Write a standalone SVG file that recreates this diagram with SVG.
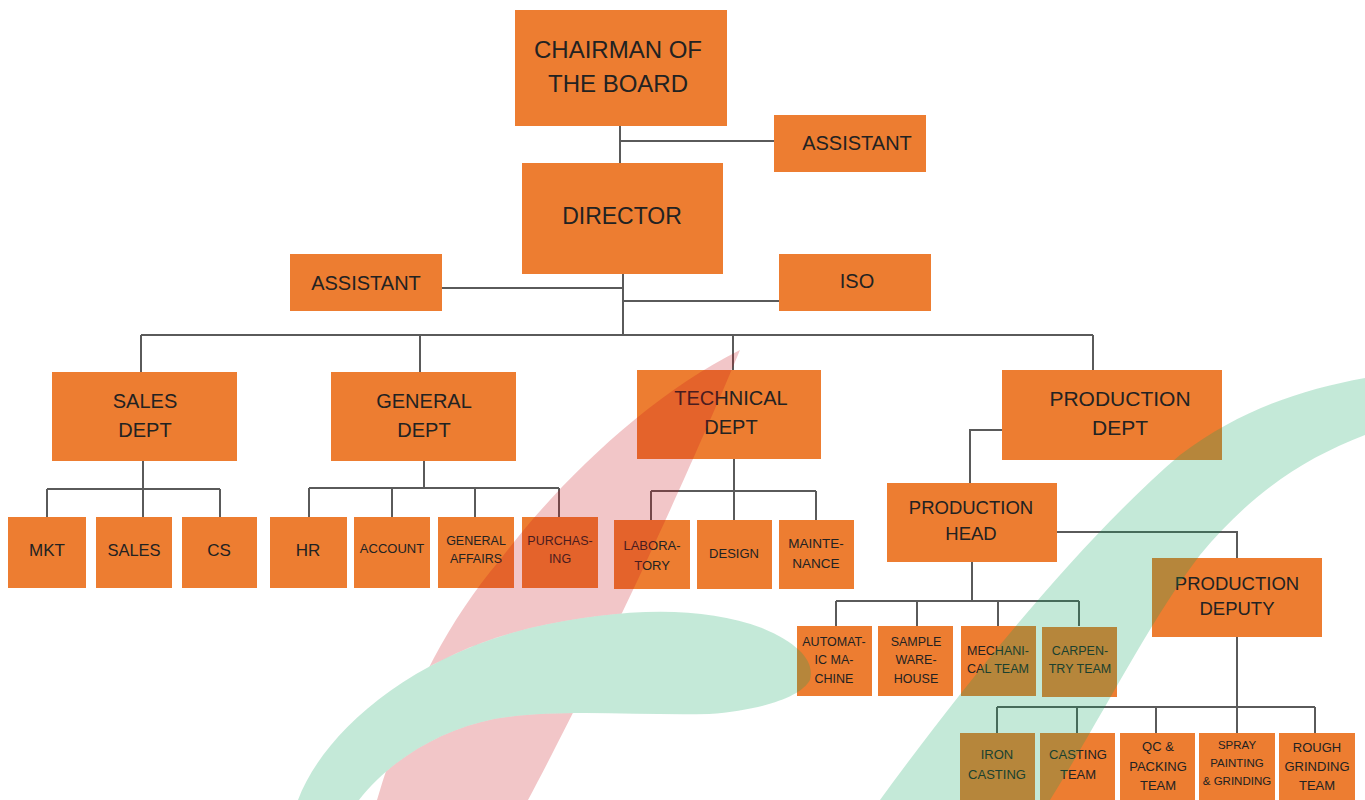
<svg xmlns="http://www.w3.org/2000/svg" width="1365" height="800" viewBox="0 0 1365 800">
<defs>
<style>
.box{fill:#ED7D31;}
.t{font-family:"Liberation Sans",Arial,sans-serif;fill:#222;text-anchor:middle;}
.ln{stroke:#5a5a5a;stroke-width:2;fill:none;}
</style>
<mask id="pinkMask">
<rect x="0" y="0" width="1365" height="800" fill="#fff"/>
<path d="M298 800 C320 740 400 660 530 628 C620 608 700 605 762 628 C800 644 815 662 810 680 C800 698 760 710 709 714 C640 716 560 708 494 719 C440 730 390 760 359 800 Z" fill="#000"/>
</mask>
</defs>
<rect width="1365" height="800" fill="#fff"/>
<g id="connectors" class="ln">
<path d="M620 126 V163 M620 141 H774"/>
<path d="M623 274 V335 M442 288 H623 M623 301 H779"/>
<path d="M141 335 H1093 M141 335 V372 M420 335 V372 M733 335 V370 M1093 335 V371"/>
<path d="M143 461 V489 M47 489 H220 M47 489 V517 M143 489 V517 M220 489 V517"/>
<path d="M424 461 V488 M309 488 H559 M309 488 V517 M392 488 V517 M475 488 V517 M559 488 V517"/>
<path d="M734 459 V491 M651 491 H816 M651 491 V520 M734 491 V520 M816 491 V520"/>
<path d="M1002 430 H970 V483"/>
<path d="M1057 532 H1237 V558"/>
<path d="M972 562 V601 M836 601 H1079 M836 601 V626 M917 601 V626 M998 601 V626 M1079 601 V626"/>
<path d="M1237 637 V733 M997 707 H1315 M997 707 V733 M1077 707 V733 M1156 707 V733 M1315 707 V733"/>
</g>
<g id="chairman"><rect class="box" x="515" y="10" width="212" height="116"/><text class="t" font-size="24" x="618" y="58">CHAIRMAN OF</text><text class="t" font-size="24" x="618" y="92">THE BOARD</text></g>
<g id="assistant-top"><rect class="box" x="774" y="115" width="152" height="57"/><text class="t" font-size="20" x="857" y="150">ASSISTANT</text></g>
<g id="director"><rect class="box" x="522" y="163" width="201" height="111"/><text class="t" font-size="23" x="622" y="224">DIRECTOR</text></g>
<g id="assistant-left"><rect class="box" x="290" y="254" width="152" height="57"/><text class="t" font-size="20" x="366" y="290">ASSISTANT</text></g>
<g id="iso"><rect class="box" x="779" y="254" width="152" height="57"/><text class="t" font-size="20" x="857" y="288">ISO</text></g>
<g id="sales-dept"><rect class="box" x="52" y="372" width="185" height="89"/><text class="t" font-size="20" x="145" y="408">SALES</text><text class="t" font-size="20" x="145" y="437">DEPT</text></g>
<g id="general-dept"><rect class="box" x="331" y="372" width="185" height="89"/><text class="t" font-size="20" x="424" y="408">GENERAL</text><text class="t" font-size="20" x="424" y="437">DEPT</text></g>
<g id="technical-dept"><rect class="box" x="637" y="370" width="184" height="89"/><text class="t" font-size="20" x="731" y="405">TECHNICAL</text><text class="t" font-size="20" x="731" y="434">DEPT</text></g>
<g id="production-dept"><rect class="box" x="1002" y="370" width="220" height="90"/><text class="t" font-size="21" x="1120" y="406">PRODUCTION</text><text class="t" font-size="21" x="1120" y="435">DEPT</text></g>
<g id="mkt"><rect class="box" x="8" y="517" width="78" height="71"/><text class="t" font-size="17" x="47" y="556">MKT</text></g>
<g id="sales"><rect class="box" x="96" y="517" width="76" height="71"/><text class="t" font-size="16.5" x="134" y="556">SALES</text></g>
<g id="cs"><rect class="box" x="182" y="517" width="75" height="71"/><text class="t" font-size="17" x="219" y="556">CS</text></g>
<g id="hr"><rect class="box" x="270" y="517" width="77" height="71"/><text class="t" font-size="17" x="308" y="556">HR</text></g>
<g id="account"><rect class="box" x="354" y="517" width="76" height="71"/><text class="t" font-size="13" x="392" y="553">ACCOUNT</text></g>
<g id="general-affairs"><rect class="box" x="438" y="517" width="76" height="71"/><text class="t" font-size="12.5" x="476" y="545">GENERAL</text><text class="t" font-size="12.5" x="476" y="563">AFFAIRS</text></g>
<g id="purchasing"><rect class="box" x="522" y="517" width="76" height="71"/><text class="t" font-size="12.5" x="560" y="545">PURCHAS-</text><text class="t" font-size="12.5" x="560" y="563">ING</text></g>
<g id="laboratory"><rect class="box" x="614" y="520" width="76" height="69"/><text class="t" font-size="13" x="652" y="550">LABORA-</text><text class="t" font-size="13" x="652" y="570">TORY</text></g>
<g id="design"><rect class="box" x="697" y="520" width="75" height="69"/><text class="t" font-size="13" x="734" y="558">DESIGN</text></g>
<g id="maintenance"><rect class="box" x="779" y="520" width="75" height="69"/><text class="t" font-size="13.5" x="816" y="548">MAINTE-</text><text class="t" font-size="13.5" x="816" y="568">NANCE</text></g>
<g id="production-head"><rect class="box" x="887" y="483" width="170" height="79"/><text class="t" font-size="18.5" x="971" y="514">PRODUCTION</text><text class="t" font-size="18.5" x="971" y="540">HEAD</text></g>
<g id="production-deputy"><rect class="box" x="1152" y="558" width="170" height="79"/><text class="t" font-size="18.5" x="1237" y="590">PRODUCTION</text><text class="t" font-size="18.5" x="1237" y="615">DEPUTY</text></g>
<g id="automatic-machine"><rect class="box" x="797" y="626" width="75" height="70"/><text class="t" font-size="12.5" x="834" y="646">AUTOMAT-</text><text class="t" font-size="12.5" x="834" y="664">IC MA-</text><text class="t" font-size="12.5" x="834" y="683">CHINE</text></g>
<g id="sample-warehouse"><rect class="box" x="878" y="626" width="75" height="70"/><text class="t" font-size="12.5" x="916" y="646">SAMPLE</text><text class="t" font-size="12.5" x="916" y="664">WARE-</text><text class="t" font-size="12.5" x="916" y="683">HOUSE</text></g>
<g id="mechanical-team"><rect class="box" x="961" y="626" width="75" height="70"/><text class="t" font-size="12.5" x="998" y="655">MECHANI-</text><text class="t" font-size="12.5" x="998" y="673">CAL TEAM</text></g>
<g id="carpentry-team"><rect class="box" x="1042" y="627" width="75" height="70"/><text class="t" font-size="12.5" x="1080" y="655">CARPEN-</text><text class="t" font-size="12.5" x="1080" y="673">TRY TEAM</text></g>
<g id="iron-casting"><rect class="box" x="960" y="733" width="75" height="72"/><text class="t" font-size="13" x="997" y="759">IRON</text><text class="t" font-size="13" x="997" y="779">CASTING</text></g>
<g id="casting-team"><rect class="box" x="1040" y="733" width="75" height="72"/><text class="t" font-size="13" x="1078" y="759">CASTING</text><text class="t" font-size="13" x="1078" y="779">TEAM</text></g>
<g id="qc-packing-team"><rect class="box" x="1120" y="733" width="75" height="72"/><text class="t" font-size="13" x="1158" y="751">QC &amp;</text><text class="t" font-size="13" x="1158" y="771">PACKING</text><text class="t" font-size="13" x="1158" y="790">TEAM</text></g>
<g id="spray-painting-grinding"><rect class="box" x="1199" y="733" width="76" height="72"/><text class="t" font-size="11.5" x="1237" y="749">SPRAY</text><text class="t" font-size="11.5" x="1237" y="767">PAINTING</text><text class="t" font-size="11.5" x="1237" y="785">&amp; GRINDING</text></g>
<g id="rough-grinding-team"><rect class="box" x="1279" y="733" width="76" height="72"/><text class="t" font-size="13" x="1317" y="752">ROUGH</text><text class="t" font-size="13" x="1317" y="771">GRINDING</text><text class="t" font-size="13" x="1317" y="790">TEAM</text></g>
<g id="decoration">
<path d="M740 350 C715 410 680 490 640 575 C600 660 560 740 528 800 L377 800 C400 720 440 630 500 560 C560 480 650 395 740 350 Z" fill="rgb(201,18,26)" fill-opacity="0.24" mask="url(#pinkMask)"/>
<path d="M298 800 C320 740 400 660 530 628 C620 608 700 605 762 628 C800 644 815 662 810 680 C800 698 760 710 709 714 C640 716 560 708 494 719 C440 730 390 760 359 800 Z" fill="rgb(10,165,90)" fill-opacity="0.24"/>
<path d="M880 800 C960 690 1080 540 1180 455 C1240 410 1300 390 1365 378 L1365 435 C1300 460 1250 495 1200 555 C1150 620 1100 720 1050 800 Z" fill="rgb(10,165,90)" fill-opacity="0.24"/>
</g>
</svg>
